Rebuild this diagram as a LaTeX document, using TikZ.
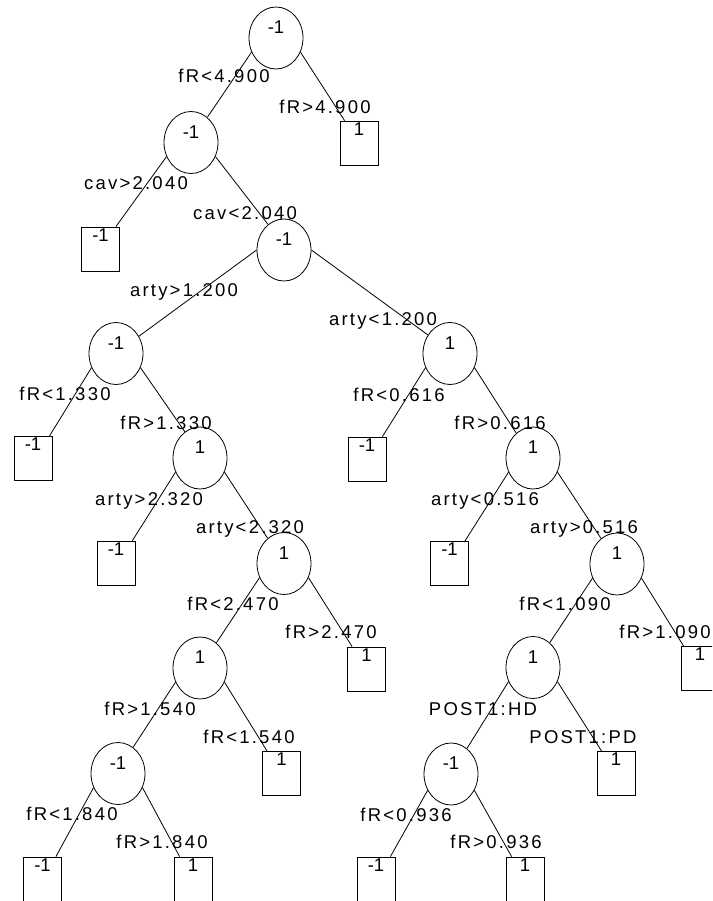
\documentclass[tikz,border=0pt]{standalone}
\usepackage{fontspec}
\setmainfont{Liberation Sans}
\newfontfamily\condfont[LetterSpace=12]{Liberation Sans}
\usetikzlibrary{shapes.geometric}
\tikzset{
  split/.style={draw,ellipse,minimum width=54pt,minimum height=62pt,inner sep=0pt,text depth=21pt},
  leaf/.style={draw,rectangle,minimum width=38pt,minimum height=44pt,inner sep=0pt,text depth=28pt},
  cond/.style={inner sep=0pt,anchor=base,font=\condfont\fontsize{18.5}{21}\selectfont},
}
\begin{document}
\begin{tikzpicture}[x=1pt,y=-1pt,line width=0.8pt,font=\fontsize{18.5}{21}\selectfont]
\clip (0,0) rectangle (712,901);
% split nodes (ellipses) and leaves (boxes)
\foreach \n/\x/\y/\v in {s0/276/38/-1,s1/191/142.5/-1,s2/284/250/-1,s3/116/353.5/-1,s4/450/353.5/1,
  s5/200/458/1,s6/533/458/1,s7/284/563.5/1,s8/617/564/1,s9/200/668/1,s10/533/667.5/1,s11/118/773.5/-1,s12/451/774/-1}
  \node[split] (\n) at (\x,\y) {\v};
\foreach \n/\x/\y/\v in {l1/359/143/1,l2/100.5/249/-1,l3/33/458.5/-1,l4/367/459/-1,l5/116/563/-1,l6/449.5/563.5/-1,
  l7/366.5/669/1,l8/700/668.5/1,l9/281.5/773.5/1,l10/616/773.5/1,l11/42.5/879/-1,l12/193/879/1,l13/376/879/-1,l14/525/879/1}
  \node[leaf] (\n) at (\x,\y) {\v};
% branches
\foreach \a/\b/\s in {s0.-150/s1.57/0,s0.-30/l1.north west/5,
  s1.-150/l2.north east/-4,s1.-30/s2.122/0,
  s2.180/s3.37/0,s2.0/s4.140/0,
  s3.-150/l3.north east/-3,s3.-30/s5.120/0,
  s4.-150/l4.north east/-4,s4.-30/s6.124/0,
  s5.-150/l5.north east/-3,s5.-30/s7.123/0,
  s6.-150/l6.north east/-4,s6.-30/s8.122/0,
  s7.-150/s9.57/0,s7.-30/l7.north west/5,
  s8.-150/s10.56/0,s8.-30/l8.north west/3,
  s9.-150/s11.60/0,s9.-30/l9.north west/5,
  s10.-150/s12.58/0,s10.-30/l10.north west/5,
  s11.-150/l11.north east/-6,s11.-30/l12.north west/6,
  s12.-145/l13.north east/-5,s12.-35/l14.north west/6}
  \draw (\a) -- ([xshift=\s pt]\b);
% split conditions
\foreach \i/\x/\y/\t in {1/224/83/fR<4.900,2/325/114/fR>4.900,3/136/190/cav>2.040,4/245/219/cav<2.040,
  5/184/296/arty>1.200,6/383/325/arty<1.200,7/65/400/fR<1.330,8/166/429/fR>1.330,
  9/399/401/fR<0.616,10/500/429/fR>0.616,11/149/505/arty>2.320,12/250/533/arty<2.320,
  13/485/505/arty<0.516,14/584/533/arty>0.516,15/233/610/fR<2.470,16/331/638/fR>2.470,
  17/565/610/fR<1.090,18/665/638/fR>1.090,19/150/715/fR>1.540,20/249/743/fR<1.540,
  21/483/715/POST1:HD,22/583/743/POST1:PD,23/72/820/fR<1.840,24/162/848/fR>1.840,
  25/406/821/fR<0.936,26/496/848/fR>0.936}
  \node[cond] (c\i) at (\x,\y) {\t};
\end{tikzpicture}
\end{document}
